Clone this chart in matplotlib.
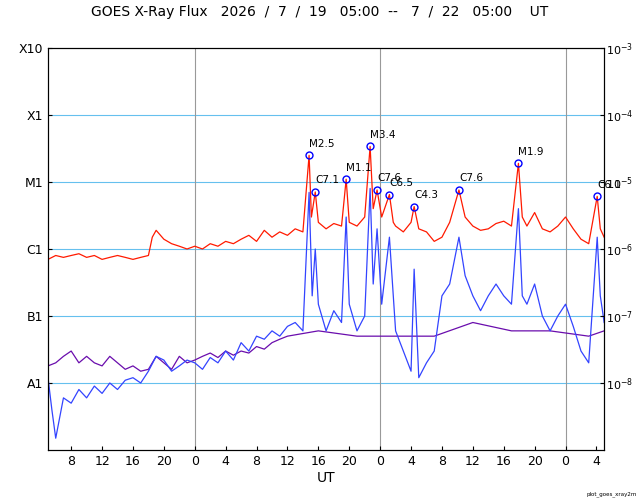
import matplotlib
matplotlib.use("Agg")
import matplotlib.pyplot as plt
import numpy as np

# hours after 2026/7/19 05:00 UT
red_t = [0, 1, 2, 3, 4, 5, 6, 7, 8, 9, 10, 11, 12, 13, 13.5, 14, 15, 16, 17, 18, 19, 20, 21, 22, 23, 24,
         25, 26, 27, 28, 29, 30, 31, 32, 33, 33.8, 34.1, 34.6, 35, 36, 37, 38, 38.6, 39, 40, 41, 41.7, 42.1,
         42.6, 43.2, 44.2, 44.7, 45, 46, 47, 47.4, 48, 49, 50, 51, 52, 53.2, 54, 55, 56, 57, 58, 59, 60,
         60.9, 61.4, 62, 63, 64, 65, 66, 67, 68, 69, 70, 71.1, 71.5, 72]
red_f = [7e-7, 8e-7, 7.5e-7, 8e-7, 8.5e-7, 7.5e-7, 8e-7, 7e-7, 7.5e-7, 8e-7, 7.5e-7, 7e-7, 7.5e-7, 8e-7,
         1.5e-6, 1.9e-6, 1.4e-6, 1.2e-6, 1.1e-6, 1.0e-6, 1.1e-6, 1.0e-6, 1.2e-6, 1.1e-6, 1.3e-6, 1.2e-6,
         1.4e-6, 1.6e-6, 1.3e-6, 1.9e-6, 1.5e-6, 1.8e-6, 1.6e-6, 2.0e-6, 1.8e-6, 2.5e-5, 3e-6, 7.1e-6,
         2.5e-6, 2e-6, 2.4e-6, 2.2e-6, 1.1e-5, 2.5e-6, 2.2e-6, 3e-6, 3.4e-5, 4e-6, 7.6e-6, 3e-6, 6.5e-6,
         2.5e-6, 2.2e-6, 1.8e-6, 2.5e-6, 4.3e-6, 2e-6, 1.8e-6, 1.3e-6, 1.5e-6, 2.5e-6, 7.6e-6, 3e-6,
         2.2e-6, 1.9e-6, 2e-6, 2.4e-6, 2.6e-6, 2.2e-6, 1.9e-5, 3e-6, 2.2e-6, 3.5e-6, 2.0e-6, 1.8e-6,
         2.2e-6, 3e-6, 2e-6, 1.4e-6, 1.2e-6, 6.1e-6, 2e-6, 1.5e-6]

blue_t = [0, 0.5, 1, 1.5, 2, 3, 4, 5, 6, 7, 8, 9, 10, 11, 12, 13, 14, 15, 16, 17, 18, 19, 20, 21, 22, 23,
          24, 25, 26, 27, 28, 29, 30, 31, 32, 33, 33.8, 34.2, 34.6, 35, 36, 37, 38, 38.6, 39, 40, 41, 41.7,
          42.1, 42.6, 43.2, 44.2, 44.7, 45, 46, 47, 47.4, 48, 49, 50, 51, 52, 53.2, 54, 55, 56, 57, 58, 59,
          60, 60.9, 61.4, 62, 63, 64, 65, 66, 67, 68, 69, 70, 71.1, 71.5, 72]
blue_f = [1.2e-8, 4e-9, 1.5e-9, 3e-9, 6e-9, 5e-9, 8e-9, 6e-9, 9e-9, 7e-9, 1e-8, 8e-9, 1.1e-8, 1.2e-8,
          1.0e-8, 1.5e-8, 2.5e-8, 2.2e-8, 1.5e-8, 1.8e-8, 2.2e-8, 2e-8, 1.6e-8, 2.4e-8, 2e-8, 3e-8,
          2.2e-8, 4e-8, 3e-8, 5e-8, 4.5e-8, 6e-8, 5e-8, 7e-8, 8e-8, 6e-8, 7e-6, 2e-7, 1e-6, 1.5e-7, 6e-8,
          1.2e-7, 8e-8, 3e-6, 1.5e-7, 6e-8, 1e-7, 8e-6, 3e-7, 2e-6, 1.5e-7, 1.5e-6, 2e-7, 6e-8, 3e-8,
          1.5e-8, 5e-7, 1.2e-8, 2e-8, 3e-8, 2e-7, 3e-7, 1.5e-6, 4e-7, 2e-7, 1.2e-7, 2e-7, 3e-7, 2e-7,
          1.5e-7, 4e-6, 2e-7, 1.5e-7, 3e-7, 1e-7, 6e-8, 1e-7, 1.5e-7, 7e-8, 3e-8, 2e-8, 1.5e-6, 2e-7, 8e-8]

purple_t = [0, 1, 2, 3, 4, 5, 6, 7, 8, 9, 10, 11, 12, 13, 14, 15, 16, 17, 18, 19, 20, 21, 22, 23, 24, 25,
            26, 27, 28, 29, 30, 31, 35, 40, 45, 50, 55, 60, 65, 70, 72]
purple_f = [1.8e-8, 2e-8, 2.5e-8, 3e-8, 2e-8, 2.5e-8, 2e-8, 1.8e-8, 2.5e-8, 2e-8, 1.6e-8, 1.8e-8, 1.5e-8,
            1.6e-8, 2.5e-8, 2e-8, 1.6e-8, 2.5e-8, 2e-8, 2.2e-8, 2.5e-8, 2.8e-8, 2.4e-8, 3e-8, 2.6e-8,
            3e-8, 2.8e-8, 3.5e-8, 3.2e-8, 4e-8, 4.5e-8, 5e-8, 6e-8, 5e-8, 5e-8, 5e-8, 8e-8, 6e-8, 6e-8,
            5e-8, 6e-8]

flare_t = [33.8, 34.6, 38.6, 41.7, 42.6, 44.2, 47.4, 53.2, 60.9, 71.1]
flare_f = [2.5e-5, 7.1e-6, 1.1e-5, 3.4e-5, 7.6e-6, 6.5e-6, 4.3e-6, 7.6e-6, 1.9e-5, 6.1e-6]
flare_lbl = ["M2.5", "C7.1", "M1.1", "M3.4", "C7.6", "C6.5", "C4.3", "C7.6", "M1.9", "C6.1"]

tick_hours = list(range(3, 73, 4))
tick_lbls = ["8", "12", "16", "20", "0", "4", "8", "12", "16", "20", "0", "4", "8", "12", "16", "20", "0", "4"]
class_lbls = ["A1", "B1", "C1", "M1", "X1", "X10"]

fig = plt.figure(figsize=(6.4, 5), dpi=100)
ax = fig.add_axes([0.075, 0.1, 0.869, 0.804])
ax.set_yscale("log")
ax.set_ylim(1e-9, 1e-3)
ax.set_xlim(0, 72)

for d in [1e-8, 1e-7, 1e-6, 1e-5, 1e-4]:
    ax.axhline(d, color="#66c0ee", lw=0.8, zorder=0)
for h in [19, 43, 67]:
    ax.axvline(h, color="#999999", lw=0.8, zorder=0)

ax.plot(purple_t, purple_f, color="#6a0dad", lw=0.9)
ax.plot(blue_t, blue_f, color="#3344ff", lw=0.9)
ax.plot(red_t, red_f, color="#ff1a00", lw=0.9)
ax.plot(flare_t, flare_f, "o", mfc="none", mec="blue", ms=5)
for t, f, s in zip(flare_t, flare_f, flare_lbl):
    ax.text(t, f * 1.25, s, fontsize=7.5, ha="left", va="bottom")

ax.set_xticks(tick_hours)
ax.set_xticklabels(tick_lbls, fontsize=9)
ax.set_yticks([1e-8, 1e-7, 1e-6, 1e-5, 1e-4, 1e-3])
ax.set_yticklabels(class_lbls, fontsize=9)
ax.minorticks_off()
ax.tick_params(direction="in", length=3)
ax.set_xlabel("UT", fontsize=10, labelpad=2)

ax2 = ax.twinx()
ax2.set_yscale("log")
ax2.set_ylim(1e-9, 1e-3)
ax2.set_yticks([1e-8, 1e-7, 1e-6, 1e-5, 1e-4, 1e-3])
ax2.set_yticklabels([r"$10^{%d}$" % e for e in range(-8, -2)], fontsize=8)
ax2.minorticks_off()
ax2.tick_params(direction="in", length=3, pad=1)

fig.text(0.5, 0.976, "GOES X-Ray Flux   2026  /  7  /  19   05:00  --   7  /  22   05:00    UT",
         ha="center", va="center", fontsize=10)
fig.text(0.995, 0.01, "plot_goes_xray2m", fontsize=4, ha="right")

fig.savefig("out.png")
